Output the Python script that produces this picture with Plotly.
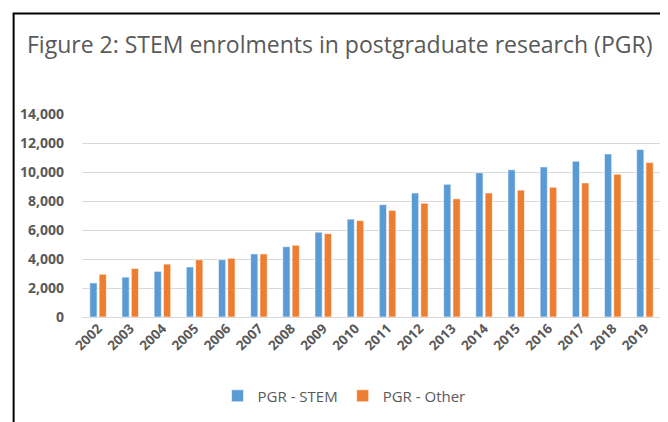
import plotly.graph_objects as go

years = [str(y) for y in range(2002, 2020)]
pgr_stem = [2350, 2750, 3150, 3450, 3950, 4350, 4850, 5850, 6750, 7750,
            8550, 9150, 9950, 10150, 10350, 10750, 11250, 11550]
pgr_other = [2950, 3350, 3650, 3950, 4050, 4350, 4950, 5750, 6650, 7350,
             7850, 8150, 8550, 8750, 8950, 9250, 9850, 10650]
y_ticks = [0, 2000, 4000, 6000, 8000, 10000, 12000, 14000]
y_tick_labels = ["0", "2,000", "4,000", "6,000", "8,000", "10,000", "12,000", "14,000"]

# page has an 8px body margin; figure coordinates = page coordinates - 8
OFF = 8
W, H = 668 - OFF, 422 - OFF
L, R, T, B = 81.5 - OFF, 661.5 - OFF, 114 - OFF, 317 - OFF
pw, ph = R - L, B - T

def px(x):
    return (x - OFF - L) / pw

def py(y):
    return (B - (y - OFF)) / ph

GREY = "#595959"
FONT = "Open Sans"

fig = go.Figure()
fig.add_bar(x=years, y=pgr_stem, name="PGR - STEM",
            marker=dict(color="#5B9BD5", line=dict(color="white", width=0.6)))
fig.add_bar(x=years, y=pgr_other, name="PGR - Other",
            marker=dict(color="#ED7D31", line=dict(color="white", width=0.6)))

fig.update_layout(
    width=W, height=H,
    margin=dict(l=L, r=W - R, t=T, b=H - B, autoexpand=False),
    paper_bgcolor="white", plot_bgcolor="white",
    barmode="group", bargap=0.42, bargroupgap=0.22,
    showlegend=True,
    legend=dict(orientation="h", x=px(344), xanchor="center", y=py(396), yanchor="middle",
                font=dict(family=FONT, size=15, color=GREY),
                itemwidth=30, traceorder="normal"),
    title=dict(text="Figure 2: STEM enrolments in postgraduate research (PGR)",
               x=(27 - OFF) / W, xanchor="left", y=1 - (45 - OFF) / H, yanchor="middle",
               font=dict(family=FONT, size=23, color=GREY)),
    xaxis=dict(type="category", tickangle=-45, showgrid=False, showline=False,
               ticks="", tickfont=dict(family=FONT, size=13.5, color=GREY, weight="bold")),
    yaxis=dict(range=[0, 14000], tickvals=y_ticks, ticktext=y_tick_labels,
               showgrid=True, gridcolor="#D9D9D9", gridwidth=1, zeroline=True,
               zerolinecolor="#D9D9D9", zerolinewidth=1, showline=False, ticks="",
               ticklabelstandoff=17,
               tickfont=dict(family=FONT, size=14, color=GREY, weight="bold")),
    shapes=[
        dict(type="rect", xref="paper", yref="paper",
             x0=px(13), x1=px(665), y0=py(440), y1=py(13.5),
             line=dict(color="black", width=2), fillcolor="rgba(0,0,0,0)", layer="above"),
    ],
)

fig.write_html("out.html")
